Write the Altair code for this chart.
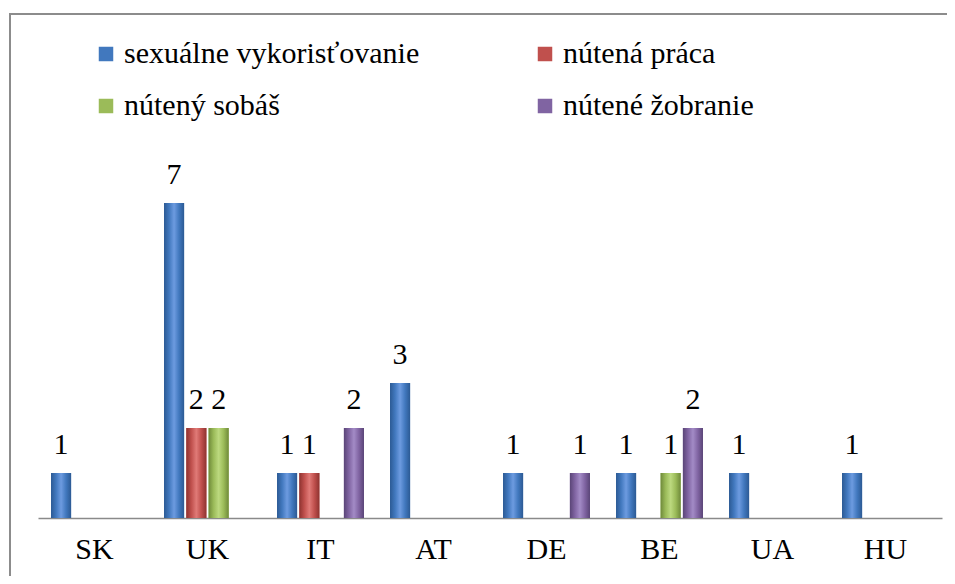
import altair as alt
import pandas as pd

categories = ["SK", "UK", "IT", "AT", "DE", "BE", "UA", "HU"]
series = ["sexuálne vykorisťovanie", "nútená práca", "nútený sobáš", "nútené žobranie"]
sexualne = [1, 7, 1, 3, 1, 1, 1, 1]
praca = [0, 2, 1, 0, 0, 0, 0, 0]
sobas = [0, 2, 0, 0, 0, 1, 0, 0]
zobranie = [0, 0, 2, 0, 1, 2, 0, 0]
colors = ["#4178be", "#c0504d", "#9bbb59", "#8064a2"]
dark = ["#2c5a94", "#8e3330", "#6f8a3a", "#5a4577"]
light = ["#6d9be0", "#e07a77", "#bcd97f", "#a38bc6"]

rows = []
for s, vals in zip(series, [sexualne, praca, sobas, zobranie]):
    for c, v in zip(categories, vals):
        if v:
            rows.append({"krajina": c, "typ": s, "pocet": v})
df = pd.DataFrame(rows)

# legend is laid out column by column, so order the domain for a row-wise look
legend_order = [series[0], series[2], series[1], series[3]]
legend_colors = [colors[0], colors[2], colors[1], colors[3]]

FONT = "Liberation Serif"
FS = 30

x = alt.X("krajina:N", sort=categories,
          scale=alt.Scale(domain=categories, paddingInner=0, paddingOuter=0),
          axis=alt.Axis(title=None, labelAngle=0, ticks=False, labelFont=FONT,
                        labelFontSize=FS, labelColor="#000", labelPadding=16,
                        domainColor="#8a8a8a", domainWidth=1.5))
xo = alt.XOffset("typ:N", sort=series,
                 scale=alt.Scale(domain=series, paddingInner=0.1, paddingOuter=0.585))
y = alt.Y("pocet:Q", scale=alt.Scale(domain=[0, 8], nice=False), axis=None)

base = alt.Chart(df)

bars = base.mark_bar(stroke=None).encode(
    x=x, xOffset=xo, y=y,
    color=alt.Color("typ:N",
                    scale=alt.Scale(domain=legend_order, range=legend_colors),
                    legend=alt.Legend(title=None, orient="none", legendX=53, legendY=-119,
                                      columns=2, columnPadding=110, rowPadding=22,
                                      symbolType="square", symbolSize=210,
                                      symbolStrokeWidth=0, labelFont=FONT,
                                      labelFontSize=FS, labelColor="#000",
                                      labelLimit=400, labelOffset=3, padding=0,
                                      symbolOffset=0)),
)

grad_layers = []
for s, c, d, l in zip(series, colors, dark, light):
    g = alt.Gradient(gradient="linear", x1=0, x2=1, y1=0, y2=0,
                     stops=[alt.GradientStop(color=d, offset=0),
                            alt.GradientStop(color=c, offset=0.25),
                            alt.GradientStop(color=l, offset=0.5),
                            alt.GradientStop(color=c, offset=0.75),
                            alt.GradientStop(color=d, offset=1)])
    grad_layers.append(
        base.transform_filter(alt.datum.typ == s)
        .mark_bar(fill=g, stroke=None)
        .encode(x=x, xOffset=xo, y=y)
    )

labels = base.mark_text(baseline="alphabetic", dy=-19, font=FONT, fontSize=FS, color="#000").encode(
    x=x, xOffset=xo, y=y, text=alt.Text("pocet:Q")
)

frame_v = alt.Chart(df).mark_rule(color="#8c8c8c", strokeWidth=2).encode(
    x=alt.value(-28), y=alt.value(-144), y2=alt.value(430)
)
frame_h = alt.Chart(df).mark_rule(color="#8c8c8c", strokeWidth=2).encode(
    x=alt.value(-29), x2=alt.value(930), y=alt.value(-144)
)

chart = alt.layer(frame_v, frame_h, bars, *grad_layers, labels).properties(
    width=904, height=360,
    autosize=alt.AutoSizeParams(type="none"),
    padding={"left": 30, "top": 150, "right": 5, "bottom": 58},
    background="white",
).configure(font=FONT).configure_view(stroke=None)

chart.save("out.html", embed_options={"renderer": "svg", "actions": False})
